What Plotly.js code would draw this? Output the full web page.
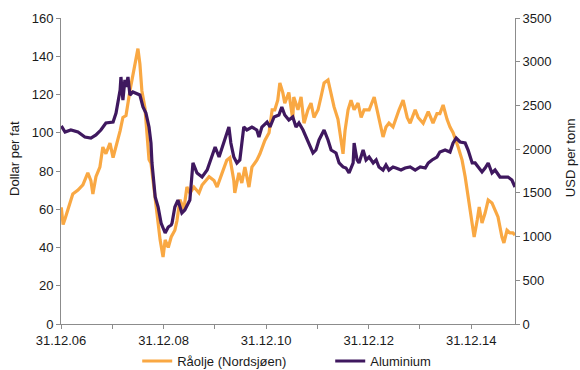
<!DOCTYPE html>
<html>
<head>
<meta charset="utf-8">
<script src="https://cdn.plot.ly/plotly-3.0.1.min.js"></script>
<style>
  html, body { margin: 0; padding: 0; background: #ffffff; }
  #chart { width: 580px; height: 370px; }
</style>
</head>
<body>
<div id="chart"></div>
<script>
// Brent crude (North Sea), USD per barrel
const oilDates = [
  '2007-01-02','2007-01-15','2007-01-29','2007-02-20','2007-03-25','2007-05-01','2007-06-05','2007-07-10',
  '2007-08-01','2007-08-15','2007-09-06','2007-10-04','2007-10-25','2007-11-16','2007-12-15','2008-01-06',
  '2008-01-27','2008-02-25','2008-03-16','2008-04-07','2008-05-05','2008-05-26','2008-06-17','2008-07-01',
  '2008-07-15','2008-07-29','2008-08-20','2008-09-04','2008-09-18','2008-10-02','2008-10-16','2008-11-01',
  '2008-11-22','2008-12-06','2008-12-27','2009-01-11','2009-02-02','2009-02-23','2009-03-21','2009-04-05',
  '2009-04-26','2009-05-24','2009-06-15','2009-07-06','2009-08-04','2009-09-09','2009-10-01','2009-11-20',
  '2009-12-25','2010-01-16','2010-02-21','2010-03-26','2010-04-17','2010-05-15','2010-05-22','2010-06-20',
  '2010-07-11','2010-08-02','2010-08-31','2010-09-21','2010-10-26','2010-11-17','2010-12-22','2011-01-21',
  '2011-02-12','2011-03-03','2011-03-24','2011-04-08','2011-04-29','2011-05-13','2011-06-11','2011-07-09',
  '2011-07-16','2011-08-15','2011-09-06','2011-09-27','2011-10-25','2011-11-16','2011-12-07','2012-01-05',
  '2012-01-26','2012-02-17','2012-03-16','2012-04-07','2012-04-28','2012-05-26','2012-06-17','2012-07-01',
  '2012-07-15','2012-08-06','2012-08-27','2012-09-18','2012-10-16','2012-11-07','2012-11-28','2013-01-03',
  '2013-02-08','2013-03-07','2013-03-28','2013-04-12','2013-05-03','2013-05-24','2013-06-22','2013-07-13',
  '2013-08-04','2013-09-02','2013-10-01','2013-10-22','2013-11-27','2013-12-18','2014-01-23','2014-02-28',
  '2014-04-03','2014-05-01','2014-05-22','2014-06-14','2014-07-12','2014-08-02','2014-08-24','2014-09-29',
  '2014-10-27','2014-11-18','2014-12-09','2015-01-07','2015-01-21','2015-02-12','2015-02-26','2015-03-18',
  '2015-04-09','2015-05-01','2015-05-28','2015-06-19','2015-07-10','2015-08-07','2015-08-21','2015-09-12',
  '2015-10-03','2015-10-24','2015-11-08'
];
const oilPrice = [
  61, 52, 55, 60, 68, 70, 72.7, 79,
  75, 68, 77, 82, 92.5, 89, 94.6, 87,
  92.5, 101, 108, 109, 122, 131, 138, 144,
  136, 122, 113, 96, 86, 84, 75, 65,
  51, 44, 35, 44, 40, 45.5, 49, 54,
  65, 60, 71.6, 68.5, 71.6, 68.5, 72.7, 77,
  75, 71.6, 79, 85.7, 87, 75, 68.5, 79,
  73.7, 82, 71.6, 82, 85.7, 89, 96, 100,
  112, 112, 117, 126, 121, 115.5, 121, 107,
  118.7, 112, 118.7, 105, 112, 115.5, 108, 112,
  118.7, 126, 127.6, 121, 113.5, 107, 94.6, 89,
  101, 112, 117, 112, 115.5, 108, 112, 112,
  118.7, 110, 103, 97.8, 103, 105, 103, 108,
  112, 117, 108, 105, 112, 108, 105, 111,
  105, 110, 110, 114.5, 107, 103, 100, 92.5,
  85.7, 77, 66.4, 50.7, 45.5, 54.4, 61.2, 52.8,
  58, 64.8, 63.3, 59.6, 56, 45.5, 42.4, 49,
  47.6, 47.6, 46.5
];

// Aluminium, USD per tonne
const aluDates = [
  '2007-01-02','2007-01-29','2007-03-11','2007-05-01','2007-06-19','2007-08-01','2007-09-06','2007-10-11',
  '2007-11-16','2008-01-06','2008-01-27','2008-02-25','2008-03-02','2008-03-16','2008-03-30','2008-04-07',
  '2008-04-21','2008-05-05','2008-05-26','2008-06-17','2008-07-15','2008-08-06','2008-08-27','2008-09-18',
  '2008-10-02','2008-10-09','2008-10-23','2008-11-01','2008-11-22','2008-12-13','2009-01-11','2009-02-02',
  '2009-02-23','2009-03-01','2009-03-21','2009-04-12','2009-05-10','2009-05-31','2009-07-06','2009-07-28',
  '2009-08-26','2009-10-01','2009-11-06','2009-12-11','2010-01-02','2010-01-30','2010-02-21',
  '2010-03-12','2010-04-10','2010-04-24','2010-05-15','2010-06-06','2010-06-27','2010-07-25','2010-08-16',
  '2010-09-21','2010-10-26','2010-11-10','2010-12-01','2011-01-07','2011-01-28','2011-02-26','2011-04-01',
  '2011-04-22','2011-05-13','2011-06-11','2011-07-09','2011-08-01','2011-08-22','2011-09-20','2011-10-11',
  '2011-11-02','2011-11-30','2011-12-21','2012-01-12','2012-02-17','2012-03-16','2012-04-07','2012-05-12',
  '2012-06-03','2012-07-01','2012-07-22','2012-08-13','2012-09-11','2012-09-18','2012-10-09','2012-10-23',
  '2012-11-21','2012-12-12','2013-01-03','2013-02-01','2013-02-22','2013-03-14','2013-04-12','2013-05-03',
  '2013-05-24','2013-06-22','2013-07-13','2013-08-18','2013-09-16','2013-10-22','2013-11-27','2014-01-02',
  '2014-02-07','2014-02-28','2014-03-27','2014-05-01','2014-05-22','2014-06-28','2014-08-02','2014-08-24',
  '2014-09-15','2014-10-13','2014-11-18','2014-12-09','2015-01-07','2015-01-28','2015-02-19','2015-03-18',
  '2015-04-09','2015-05-01','2015-05-28','2015-06-19','2015-07-24','2015-08-28','2015-09-19','2015-10-17',
  '2015-11-08'
];
const aluPrice = [
  2265, 2196, 2219, 2196, 2139, 2127, 2162, 2219,
  2299, 2310, 2413, 2676, 2825, 2562, 2791, 2711,
  2825, 2619, 2654, 2642, 2619, 2482, 2413, 2253,
  2070, 1842, 1567, 1453, 1338, 1155, 1041, 1109,
  1132, 1155, 1338, 1418, 1270, 1304, 1418, 1842,
  1727, 1681, 1761, 1910, 2025, 1910, 2025,
  2105, 2253, 2070, 1910, 1842, 1876, 2253, 2219,
  2253, 2219, 2139, 2253, 2310, 2253, 2368, 2390,
  2482, 2390, 2333, 2368, 2253, 2299, 2219, 2139,
  2070, 1956, 1990, 2105, 2219, 2105, 1990, 1956,
  1842, 1796, 1784, 1727, 1842, 2070, 1876, 1842,
  1990, 1876, 1910, 1842, 1876, 1796, 1761, 1819,
  1761, 1796, 1784, 1761, 1784, 1796, 1761, 1796,
  1784, 1842, 1876, 1910, 1967, 1990, 1967, 2070,
  2127, 2082, 2070, 1990, 1842, 1842, 1796, 1739,
  1784, 1842, 1727, 1761, 1681, 1681, 1681, 1647,
  1567
];

// Year-end ticks, labelled every second year
const tickDates = ['2006-12-31','2007-12-31','2008-12-31','2009-12-31','2010-12-31',
                   '2011-12-31','2012-12-31','2013-12-31','2014-12-31'];
const tickLabels = ['31.12.06','','31.12.08','','31.12.10','','31.12.12','','31.12.14'];

const seriesNames = ['Råolje (Nordsjøen)', 'Aluminium'];
const leftTitle = 'Dollar per fat';
const rightTitle = 'USD per tonn';

const FONT = 'Liberation Sans, Arial, sans-serif';
const TEXT = '#1a1a1a';
const AXIS = '#8c8c8c';

const traces = [
  {
    x: oilDates, y: oilPrice, name: seriesNames[0],
    type: 'scatter', mode: 'lines', yaxis: 'y',
    line: { color: '#F9A843', width: 3.2 }
  },
  {
    x: aluDates, y: aluPrice, name: seriesNames[1],
    type: 'scatter', mode: 'lines', yaxis: 'y2',
    line: { color: '#3F185F', width: 3.2 }
  }
];

const axisCommon = {
  showline: true, linecolor: AXIS, linewidth: 1,
  ticks: 'outside', ticklen: 4, tickcolor: AXIS, tickwidth: 1,
  showgrid: false, zeroline: false,
  tickfont: { family: FONT, size: 13, color: TEXT }
};

const layout = {
  width: 580, height: 370,
  margin: { l: 61, r: 65, t: 18, b: 46, autoexpand: false },
  paper_bgcolor: '#ffffff', plot_bgcolor: '#ffffff',
  font: { family: FONT, size: 13, color: TEXT },
  showlegend: true,
  legend: {
    orientation: 'h', x: 0.593, xanchor: 'center', y: -0.121, yanchor: 'middle',
    font: { family: FONT, size: 13, color: TEXT },
    entrywidth: 148, entrywidthmode: 'pixels', bgcolor: 'rgba(0,0,0,0)'
  },
  xaxis: Object.assign({}, axisCommon, {
    type: 'date',
    range: ['2006-12-31', '2015-11-08'],
    tickmode: 'array', tickvals: tickDates, ticktext: tickLabels
  }),
  yaxis: Object.assign({}, axisCommon, {
    range: [0, 160], dtick: 20, tick0: 0
  }),
  yaxis2: Object.assign({}, axisCommon, {
    range: [0, 3500], dtick: 500, tick0: 0,
    overlaying: 'y', side: 'right'
  }),
  annotations: [
    { text: leftTitle, xref: 'paper', yref: 'paper', x: -0.101, y: 0.54,
      textangle: -90, showarrow: false, xanchor: 'center', yanchor: 'middle',
      font: { family: FONT, size: 13, color: TEXT } },
    { text: rightTitle, xref: 'paper', yref: 'paper', x: 1.121, y: 0.545,
      textangle: -90, showarrow: false, xanchor: 'center', yanchor: 'middle',
      font: { family: FONT, size: 13, color: TEXT } }
  ]
};

Plotly.newPlot('chart', traces, layout, { staticPlot: true, displayModeBar: false });
</script>
</body>
</html>
